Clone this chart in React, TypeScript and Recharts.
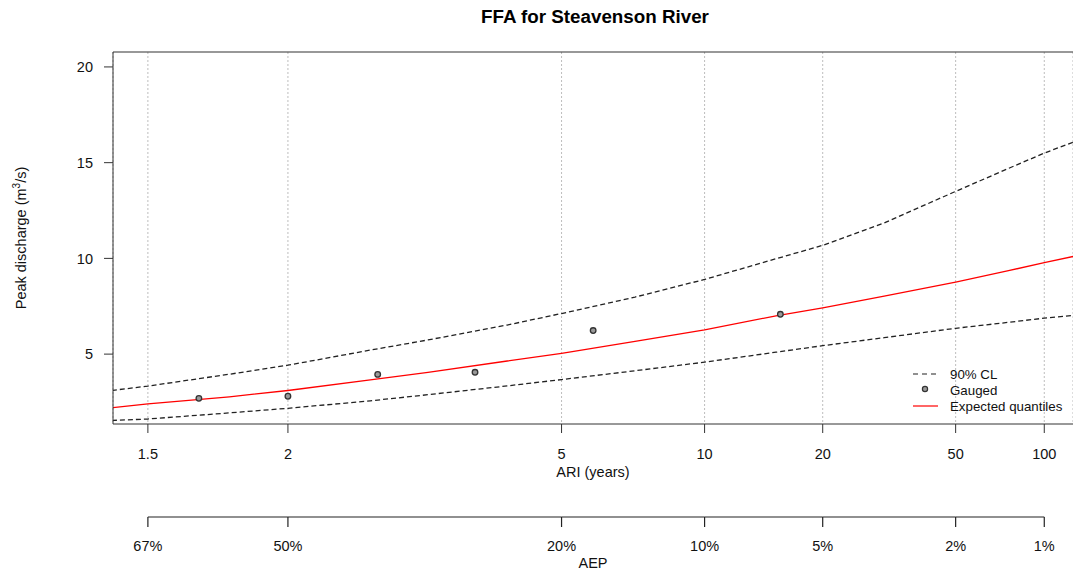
import { CartesianGrid, ComposedChart, Legend, Line, ReferenceLine, Scatter, XAxis, YAxis } from "recharts";

// ARI values where the fitted curves were read, with discharge (m3/s)
const curveAri = [1.4, 1.5, 1.75, 2, 2.5, 3, 4, 5, 7, 10, 15, 20, 30, 50, 75, 100, 130];
const expected = [2.15, 2.4, 2.77, 3.1, 3.66, 4.05, 4.64, 5.04, 5.66, 6.27, 7.0, 7.42, 8.03, 8.76, 9.36, 9.78, 10.13];
const upperCL = [3.05, 3.33, 3.95, 4.42, 5.21, 5.74, 6.52, 7.12, 7.98, 8.9, 9.98, 10.68, 11.85, 13.5, 14.7, 15.5, 16.12];
const lowerCL = [1.52, 1.61, 1.93, 2.17, 2.56, 2.88, 3.34, 3.67, 4.13, 4.58, 5.1, 5.44, 5.86, 6.35, 6.66, 6.88, 7.03];

const gaugedAri = [1.645, 2, 2.556, 3.54, 5.75, 15.4];
const gaugedQ = [2.69, 2.8, 3.94, 4.05, 6.23, 7.08];

const ariTicks = [1.5, 2, 5, 10, 20, 50, 100];
const ariLabels = ["1.5", "2", "5", "10", "20", "50", "100"];
const aepLabels = ["67%", "50%", "20%", "10%", "5%", "2%", "1%"];
const yTicks = [5, 10, 15, 20];
const ariLimits = [1.419, 127];
const yLimits = [1.35, 20.78];

const legendItems = [
  { label: "90% CL", kind: "dash" },
  { label: "Gauged", kind: "point" },
  { label: "Expected quantiles", kind: "line" },
];

const FONT = "'Liberation Sans', Arial, sans-serif";

// inverse standard normal (Acklam)
function qnorm(p: number) {
  const a = [-39.69683028665376, 220.9460984245205, -275.9285104469687, 138.357751867269, -30.66479806614716, 2.506628277459239];
  const b = [-54.47609879822406, 161.5858368580409, -155.6989798598866, 66.80131188771972, -13.28068155288572];
  const c = [-0.007784894002430293, -0.3223964580411365, -2.400758277161838, -2.549732539343734, 4.374664141464968, 2.938163982698783];
  const d = [0.007784695709041462, 0.3224671290700398, 2.445134137142996, 3.754408661907416];
  const pl = 0.02425;
  if (p < pl) {
    const q = Math.sqrt(-2 * Math.log(p));
    return (((((c[0] * q + c[1]) * q + c[2]) * q + c[3]) * q + c[4]) * q + c[5]) / ((((d[0] * q + d[1]) * q + d[2]) * q + d[3]) * q + 1);
  }
  if (p <= 1 - pl) {
    const q = p - 0.5;
    const r = q * q;
    return ((((((a[0] * r + a[1]) * r + a[2]) * r + a[3]) * r + a[4]) * r + a[5]) * q) / (((((b[0] * r + b[1]) * r + b[2]) * r + b[3]) * r + b[4]) * r + 1);
  }
  const q = Math.sqrt(-2 * Math.log(1 - p));
  return -(((((c[0] * q + c[1]) * q + c[2]) * q + c[3]) * q + c[4]) * q + c[5]) / ((((d[0] * q + d[1]) * q + d[2]) * q + d[3]) * q + 1);
}
const ariToZ = (t: number) => qnorm(1 - 1 / t);

const toSeries = (vals: number[]) => curveAri.map((t, i) => ({ z: ariToZ(t), q: vals[i] }));
const upperData = toSeries(upperCL);
const lowerData = toSeries(lowerCL);
const expectedData = toSeries(expected);
const gaugedData = gaugedAri.map((t, i) => ({ z: ariToZ(t), q: gaugedQ[i] }));

const zTicks = ariTicks.map(ariToZ);
const zDomain = [ariToZ(ariLimits[0]), ariToZ(ariLimits[1])];

const tickIndex = (v: number) => {
  let best = 0;
  zTicks.forEach((z, i) => {
    if (Math.abs(z - v) < Math.abs(zTicks[best] - v)) best = i;
  });
  return best;
};

const aepXs: number[] = [];
function AepTick(props: any) {
  const { x, y, index, payload } = props;
  const axisY = y - 25;
  aepXs[index] = x;
  const prev = index > 0 ? aepXs[index - 1] : x;
  return (
    <g>
      <line x1={prev} x2={x} y1={axisY} y2={axisY} stroke="#222" strokeWidth={1.2} />
      <line x1={x} x2={x} y1={axisY} y2={axisY + 10} stroke="#222" strokeWidth={1.2} />
      <text x={x} y={y + 9} textAnchor="middle" fontSize={14.5} fill="#111" fontFamily={FONT}>
        {aepLabels[tickIndex(payload.value)]}
      </text>
    </g>
  );
}

function LegendBox() {
  return (
    <svg width={175} height={50}>
      {legendItems.map((item, i) => {
        const cy = 10 + i * 16;
        return (
          <g key={item.label}>
            {item.kind === "dash" && <line x1={8} x2={33} y1={cy} y2={cy} stroke="#222" strokeWidth={1.2} strokeDasharray="5 4" />}
            {item.kind === "line" && <line x1={8} x2={33} y1={cy} y2={cy} stroke="#ff0000" strokeWidth={1.2} />}
            {item.kind === "point" && <circle cx={20} cy={cy - 1} r={2.6} fill="#999" stroke="#333" strokeWidth={1.2} />}
            <text x={45} y={cy + 4.5} fontSize={13.3} fill="#111" fontFamily={FONT}>
              {item.label}
            </text>
          </g>
        );
      })}
    </svg>
  );
}

const PointShape = (props: any) => <circle cx={props.cx} cy={props.cy} r={2.8} fill="#999" stroke="#333" strokeWidth={1.3} />;

export default function App() {
  return (
    <div style={{ position: "absolute", left: 0, top: 0, fontFamily: FONT }}>
      <ComposedChart width={1073} height={570} margin={{ top: 52, right: 0, bottom: 0, left: 0 }}>
        <CartesianGrid horizontal={false} stroke="#bdbdbd" strokeDasharray="2 2" />
        <XAxis
          dataKey="z"
          type="number"
          domain={zDomain}
          allowDataOverflow
          ticks={zTicks}
          interval={0}
          height={93}
          tickSize={9}
          tickMargin={16}
          stroke="#333"
          tick={{ fill: "#111", fontSize: 14.5 }}
          tickFormatter={(v: number) => ariLabels[tickIndex(v)]}
          label={{ value: "ARI (years)", position: "insideTop", offset: 43, fill: "#111", fontSize: 14.5 }}
        />
        <XAxis
          xAxisId="aep"
          dataKey="z"
          type="number"
          domain={zDomain}
          allowDataOverflow
          ticks={zTicks}
          interval={0}
          height={53}
          tickSize={10}
          tickMargin={15}
          axisLine={false}
          tickLine={false}
          tick={<AepTick />}
          label={{ value: "AEP", position: "insideBottom", offset: 2, fill: "#111", fontSize: 14.5 }}
        />
        <YAxis
          type="number"
          domain={yLimits}
          allowDataOverflow
          ticks={yTicks}
          width={113}
          tickSize={9}
          tickMargin={11}
          stroke="#333"
          tick={{ fill: "#111", fontSize: 14.5 }}
          label={{
            content: (p: any) => {
              const cy = p.viewBox.y + p.viewBox.height / 2;
              return (
                <text transform={`translate(26, ${cy}) rotate(-90)`} textAnchor="middle" fontSize={14.5} fill="#111" fontFamily={FONT}>
                  Peak discharge (m<tspan dy={-6} fontSize={10}>3</tspan>
                  <tspan dy={6}>/s)</tspan>
                </text>
              );
            },
          }}
        />
        <ReferenceLine
          y={yLimits[1]}
          stroke="#333"
          strokeWidth={1.2}
          label={{
            content: (p: any) => (
              <text x={p.viewBox.x + p.viewBox.width / 2 + 2} y={p.viewBox.y - 29} textAnchor="middle" fontSize={18.8} fontWeight="bold" fill="#000" fontFamily={FONT}>
                FFA for Steavenson River
              </text>
            ),
          }}
        />
        <Line data={upperData} dataKey="q" name="90% CL" type="linear" stroke="#222" strokeWidth={1.3} strokeDasharray="5 3" dot={false} isAnimationActive={false} />
        <Line data={lowerData} dataKey="q" name="90% CL lower" type="linear" stroke="#222" strokeWidth={1.3} strokeDasharray="5 3" dot={false} legendType="none" isAnimationActive={false} />
        <Line data={expectedData} dataKey="q" name="Expected quantiles" type="linear" stroke="#ff0000" strokeWidth={1.3} dot={false} isAnimationActive={false} />
        <Scatter data={gaugedData} dataKey="q" name="Gauged" shape={<PointShape />} isAnimationActive={false} />
        <Legend
          layout="vertical"
          align="center"
          verticalAlign="middle"
          content={() => <LegendBox />}
          wrapperStyle={{ position: "absolute", left: 905, top: 364, width: 175, height: 50 }}
        />
      </ComposedChart>
    </div>
  );
}
